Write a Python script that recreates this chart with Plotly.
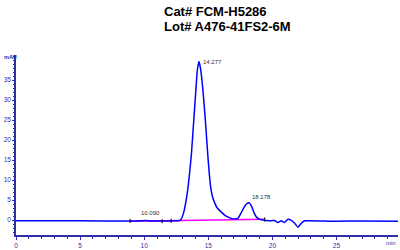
import plotly.graph_objects as go

# Chromatogram trace (retention time in min, absorbance in mAU)
time_min = [0.0, 5.0, 8.8, 9.9, 10.09, 10.3, 11.5, 12.5, 12.75, 12.9, 13.1, 13.25, 13.41,
            13.55, 13.68, 13.86, 14.04, 14.15, 14.277, 14.40, 14.57, 14.78, 14.96, 15.08,
            15.20, 15.33, 15.46, 15.7, 15.98, 16.25, 16.51, 16.8, 17.05, 17.3, 17.55,
            17.81, 17.98, 18.178, 18.38, 18.6, 18.8, 19.0, 19.3, 19.5, 19.9, 20.15, 20.43,
            20.69, 20.95, 21.22, 21.48, 21.74, 22.0, 22.26, 22.52, 23.0, 24.0, 24.3, 25.0,
            27.0, 29.8]
signal_mau = [-0.2, -0.2, -0.25, -0.2, -0.1, -0.2, -0.25, -0.2, -0.15, 0.3, 2.1, 4.5, 7.9,
              12.0, 16.3, 24.6, 32.9, 37.5, 39.6, 37.8, 32.9, 24.6, 16.3, 11.5,
              7.9, 5.8, 4.6, 3.0, 2.1, 1.3, 0.8, 0.4, 0.25, 0.4, 1.7,
              3.3, 4.0, 4.3, 3.4, 1.6, 0.6, 0.2, 0.0, -0.1, -0.2, -0.1, -0.6,
              -0.2, -0.6, 0.2, -0.1, -0.8, -1.8, -0.8, -0.2, -0.2, -0.25, -0.3, -0.3,
              -0.25, -0.3]

# Integration baseline (magenta)
base_time = [8.9, 19.4]
base_mau = [-0.3, 0.2]

# Integration event marks
mark_time = [8.9, 11.4, 12.1, 19.4]
mark_mau = [-0.25, -0.3, -0.2, 0.1]

# Peak labels
peak_time = [10.090, 14.277, 18.178]
peak_mau = [0.0, 39.6, 4.3]
peak_text = ["10.090", "14.277", "18.178"]

title_lines = ["Cat# FCM-H5286", "Lot# A476-41FS2-6M"]
x_ticks = [0, 5, 10, 15, 20, 25]
y_ticks = [0, 5, 10, 15, 20, 25, 30, 35]

axis_color = "#2e2ea8"

fig = go.Figure()
fig.add_trace(go.Scatter(x=base_time, y=base_mau, mode="lines",
                         line=dict(color="#ff00ff", width=1.5), hoverinfo="skip"))
fig.add_trace(go.Scatter(x=time_min, y=signal_mau, mode="lines",
                         line=dict(color="#0000ff", width=1.5, shape="spline", smoothing=0.6)))
fig.add_trace(go.Scatter(x=mark_time, y=mark_mau, mode="markers",
                         marker=dict(color="black", size=3, symbol="line-ns",
                                     line=dict(color="black", width=1))))

annotations = []
offsets = [(-6, 7, "left"), (2, 0, "left"), (1, 6, "left")]
for t, v, s, (dx, dy, anc) in zip(peak_time, peak_mau, peak_text, offsets):
    annotations.append(dict(x=t, y=v, xref="x", yref="y", text=s, showarrow=False,
                            xanchor=anc, yanchor="middle", xshift=dx, yshift=dy,
                            font=dict(size=6, color="#333333", family="Liberation Sans")))
for i, line in enumerate(title_lines):
    annotations.append(dict(x=162, y=250 - (11 + 15.5 * i), xref="paper", yref="paper",
                            text="<b>" + line + "</b>", showarrow=False, xanchor="left",
                            yanchor="middle",
                            font=dict(size=13, color="black", family="Liberation Sans")))
annotations.append(dict(x=2, y=250 - 57, xref="paper", yref="paper", text="<b>mAU</b>",
                        showarrow=False, xanchor="left", yanchor="middle",
                        font=dict(size=5.5, color=axis_color, family="Liberation Sans")))
annotations.append(dict(x=398, y=250 - 243, xref="paper", yref="paper", text="min",
                        showarrow=False, xanchor="right", yanchor="middle",
                        font=dict(size=6, color=axis_color, family="Liberation Sans")))

# convert pixel-based paper coordinates for layout annotations
L, R, T, B = 16, 2, 55, 15
W, H = 400, 250
pw, ph = W - L - R, H - T - B
for a in annotations:
    if a["xref"] == "paper":
        a["x"] = (a["x"] - L) / pw
        a["y"] = (a["y"] - B) / ph

fig.update_layout(
    width=W, height=H,
    margin=dict(l=L, r=R, t=T, b=B),
    paper_bgcolor="white", plot_bgcolor="white",
    showlegend=False,
    annotations=annotations,
    xaxis=dict(range=[0, 29.8], tickvals=x_ticks, showgrid=False, zeroline=False,
               showline=True, linecolor=axis_color, linewidth=1.5,
               ticks="outside", ticklen=3, tickcolor=axis_color, tickwidth=1,
               tickfont=dict(size=6.5, color=axis_color, family="Liberation Sans"),
               minor=dict(ticks="outside", ticklen=2, dtick=1, tickcolor=axis_color),
               fixedrange=True),
    yaxis=dict(range=[-3.75, 41.25], tickvals=y_ticks, showgrid=False, zeroline=False,
               showline=True, linecolor=axis_color, linewidth=1.5,
               ticks="outside", ticklen=2, tickcolor=axis_color, tickwidth=1,
               tickfont=dict(size=6.5, color=axis_color, family="Liberation Sans"),
               minor=dict(ticks="outside", ticklen=1.5, dtick=1, tickcolor=axis_color),
               fixedrange=True),
)

fig.write_html("out.html", config={"displayModeBar": False})
